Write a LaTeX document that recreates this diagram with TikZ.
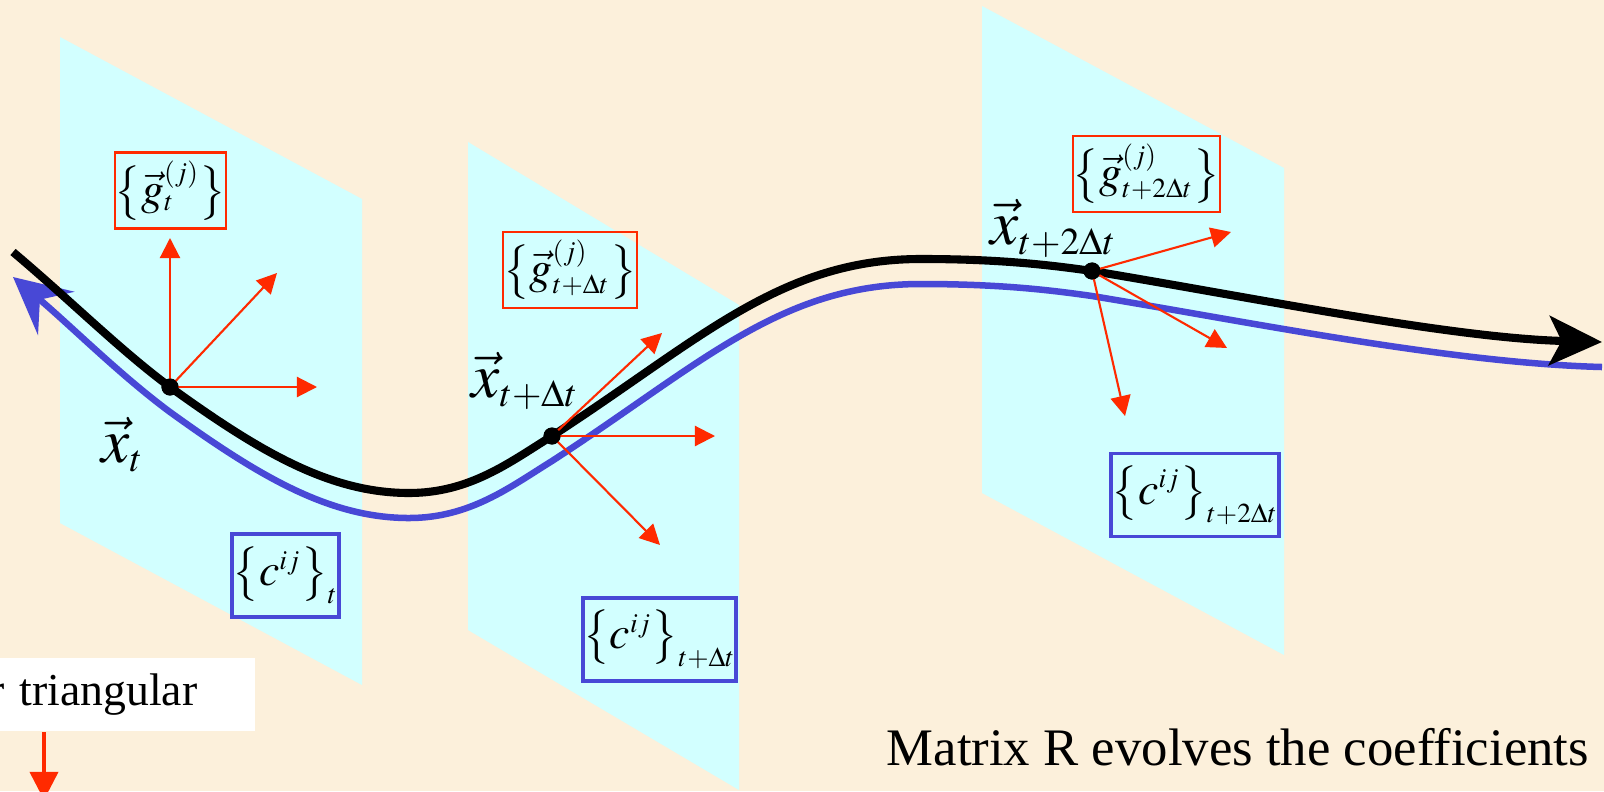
\documentclass[tikz,border=0pt]{standalone}
\usepackage{mathptmx}
\usepackage[no-math]{fontspec}
\setmainfont{Liberation Serif}
\usepackage{tikz}
\usetikzlibrary{arrows.meta, positioning}
\definecolor{paper}{HTML}{FCF0DB}
\definecolor{planecyan}{HTML}{D2FFFF}
\definecolor{vecred}{HTML}{FF2A00}
\definecolor{coefblue}{HTML}{4848D6}
\tikzset{
  planefill/.style={fill=planecyan, draw=none},
  traj/.style={line width=2.3pt, black, -{Stealth[length=15pt, width=14pt, inset=3.5pt]}},
  coefpath/.style={line width=1.85pt, coefblue, {Stealth[length=16pt, width=16pt, inset=6pt]}-},
  basis/.style={line width=0.6pt, vecred, -{Triangle[length=5.7pt, width=5.7pt]}},
  bigbasis/.style={line width=1pt, vecred, -{Triangle[length=8pt, width=8pt]}},
  dot/.style={circle, fill=black, inner sep=0pt, minimum size=0.17cm},
  gbox/.style={draw=vecred, line width=0.6pt, inner xsep=0pt, inner ysep=1pt,
    minimum height=0.76cm, font=\fontsize{13}{15}\selectfont},
  cbox/.style={draw=coefblue, line width=1.1pt, inner xsep=0pt, inner ysep=1pt,
    minimum height=0.83cm, font=\fontsize{13}{15}\selectfont},
  poslabel/.style={anchor=base west, inner sep=0pt, font=\fontsize{18}{20}\selectfont},
  note/.style={font=\fontsize{15}{17}\selectfont},
}
\newcommand\trajectory{(13,252) .. controls (70,300) and (120,350) .. (170,387)
  .. controls (260,452) and (330,493) .. (409,493)
  .. controls (470,493) and (510,462) .. (552,436)
  .. controls (700,340) and (780,259) .. (921,259)
  .. controls (1000,259) and (1050,265) .. (1092,271)
  .. controls (1250,297) and (1450,338) .. (1602,342)}

\begin{document}
\begin{tikzpicture}[x=0.01cm, y=-0.01cm]

  \useasboundingbox (0,0) rectangle (1604,791);
  \clip (0,0) rectangle (1604,791);
  \fill[paper] (0,0) rectangle (1604,791);

  \fill[planefill] (60,37) -- (362,199) -- (362,685) -- (60,523) -- cycle;
  \fill[planefill] (468,142) -- (739,305) -- (739,790) -- (468,630) -- cycle;
  \fill[planefill] (982,6) -- (1284,168) -- (1284,655) -- (982,493) -- cycle;

  \begin{scope}[yshift=-0.25cm]
    \draw[coefpath] \trajectory;
  \end{scope}
  \draw[traj] \trajectory;

  \node[dot] (pos0) at (170,387) {};
  \node[dot] (pos1) at (552,436) {};
  \node[dot] (pos2) at (1092,271) {};

  \coordinate (b0a) at (170,238);
  \coordinate (b0b) at (277,273);
  \coordinate (b0c) at (317,387);
  \coordinate (b1a) at (662,333);
  \coordinate (b1b) at (715,436);
  \coordinate (b1c) at (660,545);
  \coordinate (b2a) at (1231,232);
  \coordinate (b2b) at (1227,348);
  \coordinate (b2c) at (1125,416);

  \draw[basis] (pos0.center) -- (b0a);
  \draw[basis] (pos0.center) -- (b0b);
  \draw[basis] (pos0.center) -- (b0c);
  \draw[basis] (pos1.center) -- (b1a);
  \draw[basis] (pos1.center) -- (b1b);
  \draw[basis] (pos1.center) -- (b1c);
  \draw[basis] (pos2.center) -- (b2a);
  \draw[basis] (pos2.center) -- (b2b);
  \draw[basis] (pos2.center) -- (b2c);

  \node[dot] at (pos0) {};
  \node[dot] at (pos1) {};
  \node[dot] at (pos2) {};

  \node[poslabel] (lab0) at (101,462) {$\vec{x}_{\scriptscriptstyle t}$};
  \node[poslabel] (lab1) at (471,397) {$\vec{x}_{\scriptscriptstyle t+\Delta t}$};
  \node[poslabel] (lab2) at (990,245) {$\vec{x}_{\scriptscriptstyle t+2\Delta t}$};

  \node[gbox, minimum width=1.11cm] (gset0) at (170.5,190.5)
    {$\bigl\{\vec{g}^{\scriptscriptstyle(j)}_{\scriptscriptstyle t}\bigr\}$};
  \node[gbox, minimum width=1.30cm] (gset1) at (570,270)
    {$\bigl\{\vec{g}^{\scriptscriptstyle(j)}_{\scriptscriptstyle t+\Delta t}\bigr\}$};
  \node[gbox, minimum width=1.45cm] (gset2) at (1146.5,174)
    {$\bigl\{\vec{g}^{\scriptscriptstyle(j)}_{\scriptscriptstyle t+2\Delta t}\bigr\}$};

  \node[cbox, minimum width=1.07cm] (cset0) at (285.5,575.5)
    {$\bigl\{c^{\scriptscriptstyle ij}\bigr\}_{\scriptscriptstyle t}$};
  \node[cbox, minimum width=1.53cm] (cset1) at (659.5,639.5)
    {$\bigl\{c^{\scriptscriptstyle ij}\bigr\}_{\scriptscriptstyle t+\Delta t}$};
  \node[cbox, minimum width=1.68cm] (cset2) at (1195,495)
    {$\bigl\{c^{\scriptscriptstyle ij}\bigr\}_{\scriptscriptstyle t+2\Delta t}$};

  \node[note, font=\fontsize{13}{15}\selectfont, fill=white, anchor=north east,
    minimum height=0.73cm, inner xsep=0.58cm, text width=2.4cm, align=right]
    (tri) at (256,657) {r triangular};
  \coordinate (tritop) at (44,732);
  \coordinate (tribot) at (44,800);
  \draw[bigbasis] (tritop) -- (tribot);

  \node[note, anchor=base west, inner sep=0pt] (evolve) at (886,765)
    {Matrix R evolves the coefficients};

\end{tikzpicture}
\end{document}
